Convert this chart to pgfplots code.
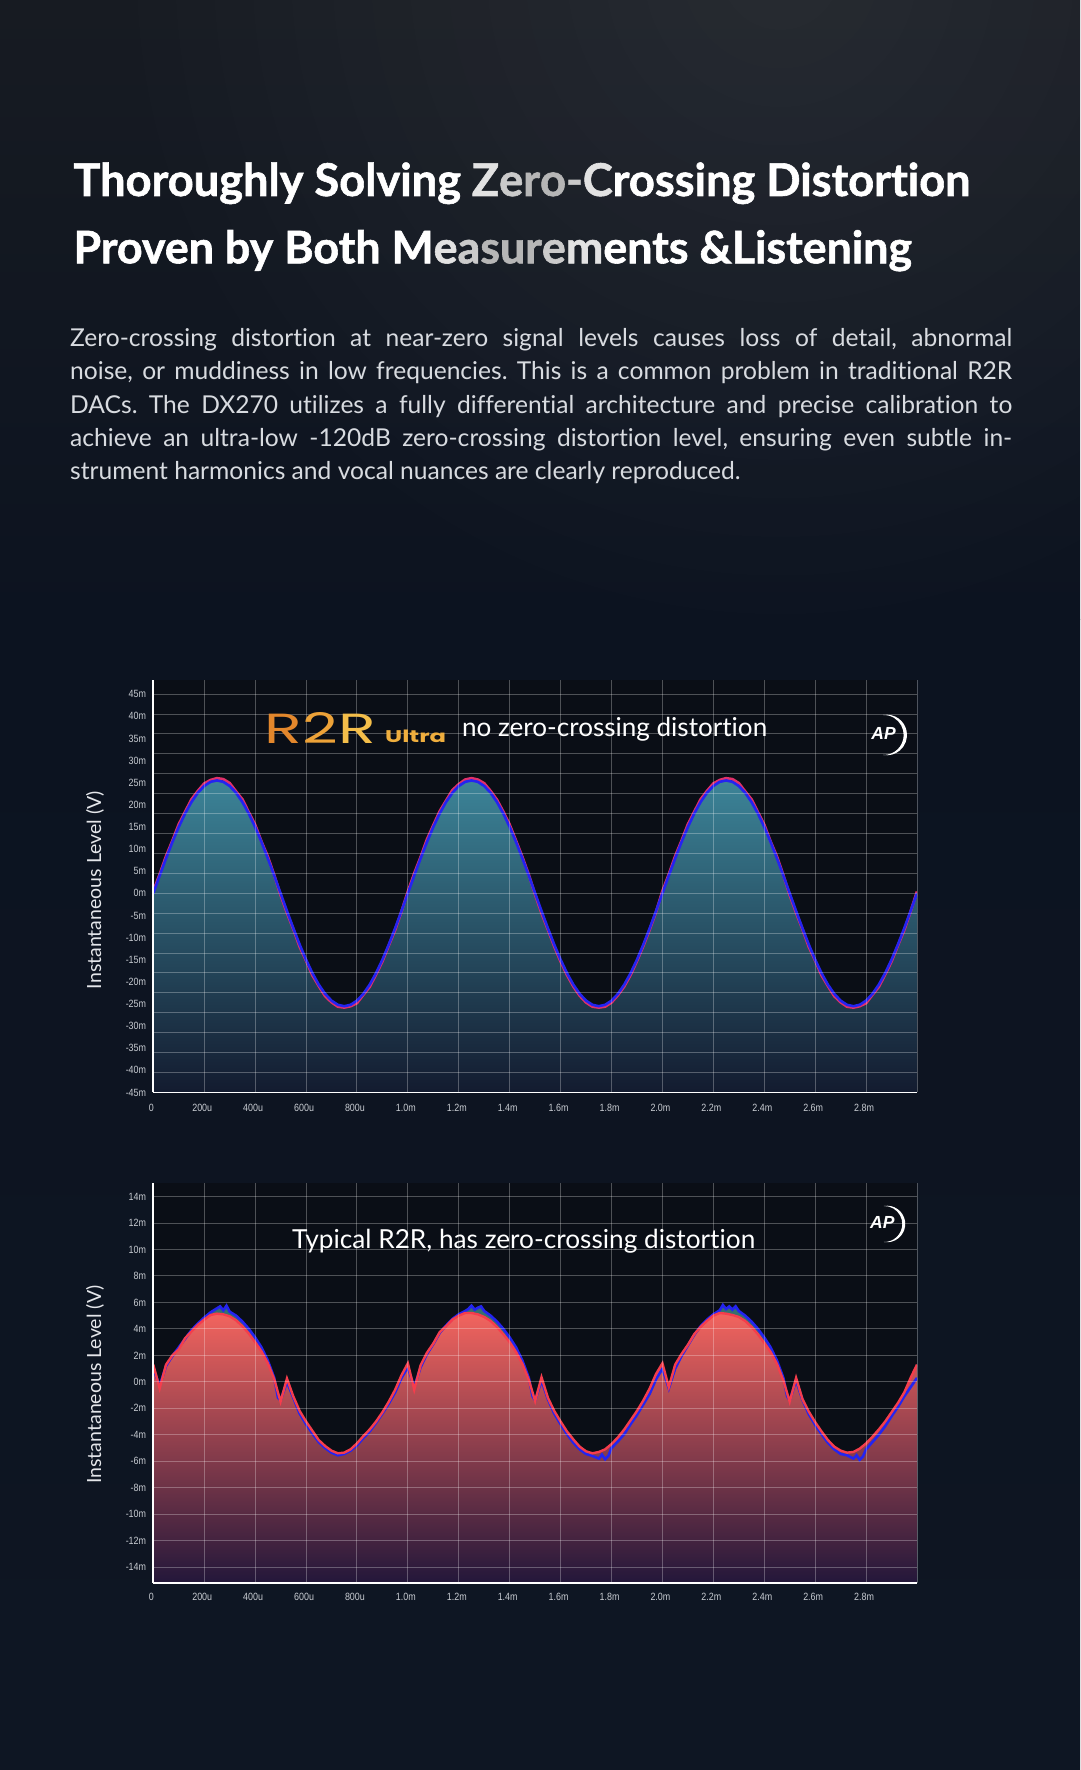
\documentclass[border=0pt]{standalone}
\usepackage{fontspec}
\usepackage{graphicx}
\usepackage{pgfplots}
\usepackage{pgfplotstable}
\usetikzlibrary{fadings}
\pgfplotsset{compat=1.18}
\setmainfont{Lato}[Ligatures=NoCommon, BoldFeatures={FakeBold=1.3}]
\newfontfamily\tickfont[FakeStretch=0.85]{Liberation Sans}
\newfontfamily\logofont{Poppins}
\newfontfamily\apfont{Liberation Sans}
\frenchspacing

\tikzfading[name=radfade, inner color=transparent!0, outer color=transparent!100]

\definecolor{bgtop}{HTML}{171B22}
\definecolor{bgmid}{HTML}{0C1320}
\definecolor{bgbot}{HTML}{0E1623}
\definecolor{plotbg}{HTML}{0A0E16}
\definecolor{tickc}{HTML}{C8CCD2}
\definecolor{bodyc}{HTML}{D8DBE0}
\definecolor{labc}{HTML}{E4E6EA}
\definecolor{tealtop}{HTML}{3C8498}
\definecolor{tealmid}{HTML}{235268}
\definecolor{tealbot}{HTML}{131B2F}
\definecolor{lineblue}{HTML}{2424F0}
\definecolor{linemag}{HTML}{E0306A}
\definecolor{linered}{HTML}{F53D4C}
\definecolor{redtop}{HTML}{F2645E}
\definecolor{redmid}{HTML}{8C4262}
\definecolor{redbot}{HTML}{23173A}
\definecolor{bfill}{HTML}{35706F}
\definecolor{orA}{HTML}{E3872C}
\definecolor{orB}{HTML}{EDA238}
\definecolor{orC}{HTML}{F4BE4A}
\definecolor{orU}{HTML}{EFAE3E}
\definecolor{gA}{HTML}{E2E2E2}
\definecolor{gB}{HTML}{CACACA}
\definecolor{gC}{HTML}{B6B6B6}

\pgfplotstableread{
x b r
0.000 0 0.5
0.025 3.99 4.29
0.050 7.88 8.38
0.075 11.58 11.88
0.100 14.99 15.59
0.125 18.03 18.43
0.150 20.63 21.23
0.175 22.72 23.12
0.200 24.25 24.80
0.225 25.19 25.59
0.250 25.5 26.0
0.275 25.19 25.79
0.300 24.25 24.90
0.325 22.72 23.02
0.350 20.63 21.23
0.375 18.03 18.33
0.400 14.99 15.49
0.425 11.58 11.68
0.450 7.88 8.28
0.475 3.99 4.09
0.500 0 -0.4
0.525 -3.99 -4.39
0.550 -7.88 -8.08
0.575 -11.58 -12.08
0.600 -14.99 -15.19
0.625 -18.03 -18.53
0.650 -20.63 -20.93
0.675 -22.72 -23.22
0.700 -24.25 -24.60
0.725 -25.19 -25.59
0.750 -25.5 -25.8
0.775 -25.19 -25.49
0.800 -24.25 -24.80
0.825 -22.72 -22.92
0.850 -20.63 -21.13
0.875 -18.03 -18.33
0.900 -14.99 -15.39
0.925 -11.58 -11.78
0.950 -7.88 -8.28
0.975 -3.99 -4.09
1.000 0 0.4
1.025 3.99 4.49
1.050 7.88 8.18
1.075 11.58 12.18
1.100 14.99 15.39
1.125 18.03 18.53
1.150 20.63 20.93
1.175 22.72 23.32
1.200 24.25 24.65
1.225 25.19 25.69
1.250 25.5 26.0
1.275 25.19 25.69
1.300 24.25 24.85
1.325 22.72 23.12
1.350 20.63 21.13
1.375 18.03 18.43
1.400 14.99 15.49
1.425 11.58 11.88
1.450 7.88 8.18
1.475 3.99 4.19
1.500 0 -0.3
1.525 -3.99 -4.49
1.550 -7.88 -8.18
1.575 -11.58 -11.98
1.600 -14.99 -15.39
1.625 -18.03 -18.43
1.650 -20.63 -21.03
1.675 -22.72 -23.12
1.700 -24.25 -24.65
1.725 -25.19 -25.59
1.750 -25.5 -25.8
1.775 -25.19 -25.59
1.800 -24.25 -24.65
1.825 -22.72 -23.02
1.850 -20.63 -21.03
1.875 -18.03 -18.43
1.900 -14.99 -15.29
1.925 -11.58 -11.88
1.950 -7.88 -8.18
1.975 -3.99 -4.19
2.000 0 0.5
2.025 3.99 4.29
2.050 7.88 8.38
2.075 11.58 11.88
2.100 14.99 15.59
2.125 18.03 18.43
2.150 20.63 21.23
2.175 22.72 23.12
2.200 24.25 24.80
2.225 25.19 25.59
2.250 25.5 26.0
2.275 25.19 25.79
2.300 24.25 24.90
2.325 22.72 23.02
2.350 20.63 21.23
2.375 18.03 18.33
2.400 14.99 15.49
2.425 11.58 11.68
2.450 7.88 8.28
2.475 3.99 4.09
2.500 0 -0.4
2.525 -3.99 -4.39
2.550 -7.88 -8.08
2.575 -11.58 -12.08
2.600 -14.99 -15.19
2.625 -18.03 -18.53
2.650 -20.63 -20.93
2.675 -22.72 -23.22
2.700 -24.25 -24.60
2.725 -25.19 -25.59
2.750 -25.5 -25.8
2.775 -25.19 -25.49
2.800 -24.25 -24.80
2.825 -22.72 -22.92
2.850 -20.63 -21.13
2.875 -18.03 -18.33
2.900 -14.99 -15.39
2.925 -11.58 -11.78
2.950 -7.88 -8.28
2.975 -3.99 -4.09
3.000 0 0.4
}\toptab

\pgfplotstableread{
x y
0.000 1.30
0.025 -0.50
0.050 1.30
0.075 2.00
0.100 2.45
0.125 3.30
0.150 3.80
0.175 4.30
0.200 4.70
0.225 5.05
0.250 5.15
0.275 5.10
0.300 4.95
0.325 4.65
0.350 4.20
0.375 3.65
0.400 3.00
0.425 2.30
0.450 1.40
0.475 0.20
0.500 -1.50
0.525 0.25
0.550 -1.10
0.575 -2.20
0.600 -3.00
0.625 -3.70
0.650 -4.40
0.675 -4.85
0.700 -5.20
0.725 -5.40
0.750 -5.35
0.775 -5.10
0.800 -4.65
0.825 -4.10
0.850 -3.60
0.875 -3.00
0.900 -2.30
0.925 -1.50
0.950 -0.60
0.975 0.50
1.000 1.40
1.025 -0.60
1.050 1.25
1.075 2.20
1.100 2.90
1.125 3.75
1.150 4.20
1.175 4.70
1.200 5.00
1.225 5.20
1.250 5.20
1.275 5.10
1.300 4.90
1.325 4.60
1.350 4.15
1.375 3.60
1.400 3.00
1.425 2.25
1.450 1.35
1.475 0.15
1.500 -1.45
1.525 0.35
1.550 -1.20
1.575 -2.20
1.600 -3.00
1.625 -3.75
1.650 -4.35
1.675 -4.90
1.700 -5.25
1.725 -5.40
1.750 -5.30
1.775 -5.10
1.800 -4.70
1.825 -4.20
1.850 -3.60
1.875 -2.90
1.900 -2.20
1.925 -1.40
1.950 -0.50
1.975 0.60
2.000 1.40
2.025 -0.40
2.050 1.30
2.075 2.10
2.100 2.80
2.125 3.60
2.150 4.15
2.175 4.60
2.200 5.00
2.225 5.20
2.250 5.15
2.275 5.05
2.300 4.90
2.325 4.60
2.350 4.15
2.375 3.60
2.400 2.95
2.425 2.25
2.450 1.35
2.475 0.10
2.500 -1.50
2.525 0.30
2.550 -1.30
2.575 -2.25
2.600 -3.05
2.625 -3.75
2.650 -4.40
2.675 -4.90
2.700 -5.20
2.725 -5.35
2.750 -5.30
2.775 -5.05
2.800 -4.65
2.825 -4.15
2.850 -3.60
2.875 -3.00
2.900 -2.30
2.925 -1.60
2.950 -0.80
2.975 0.30
3.000 1.30
}\botred

\pgfplotstableread{
x y
0.000 1.00
0.025 -0.30
0.050 1.20
0.075 1.95
0.100 2.60
0.125 3.25
0.150 3.90
0.175 4.40
0.200 4.85
0.225 5.25
0.250 5.55
0.2625 5.70
0.275 5.40
0.2875 5.75
0.300 5.30
0.325 5.00
0.350 4.55
0.375 4.00
0.400 3.35
0.425 2.60
0.450 1.60
0.475 0.30
0.490 -1.20
0.500 -1.40
0.525 0.00
0.550 -1.20
0.575 -2.40
0.600 -3.20
0.625 -3.90
0.650 -4.55
0.675 -5.00
0.700 -5.35
0.725 -5.55
0.750 -5.45
0.775 -5.20
0.800 -4.80
0.825 -4.25
0.850 -3.75
0.875 -3.10
0.900 -2.40
0.925 -1.65
0.950 -0.80
0.975 0.30
1.000 1.10
1.025 -0.40
1.050 1.10
1.075 2.10
1.100 2.85
1.125 3.70
1.150 4.25
1.175 4.75
1.200 5.10
1.225 5.35
1.2375 5.50
1.250 5.75
1.2625 5.45
1.275 5.60
1.2875 5.70
1.300 5.35
1.325 5.00
1.350 4.55
1.375 4.00
1.400 3.35
1.425 2.60
1.450 1.60
1.475 0.30
1.490 -1.10
1.500 -1.40
1.525 0.10
1.550 -1.30
1.575 -2.40
1.600 -3.20
1.625 -3.95
1.650 -4.60
1.675 -5.10
1.700 -5.45
1.725 -5.60
1.750 -5.80
1.7625 -5.50
1.775 -5.85
1.7875 -5.60
1.800 -5.00
1.825 -4.50
1.850 -3.95
1.875 -3.20
1.900 -2.50
1.925 -1.70
1.950 -0.90
1.975 0.20
2.000 1.00
2.025 -0.50
2.050 1.00
2.075 1.95
2.100 2.75
2.125 3.55
2.150 4.20
2.175 4.70
2.200 5.10
2.225 5.40
2.2375 5.80
2.250 5.50
2.2625 5.70
2.275 5.45
2.2875 5.70
2.300 5.35
2.325 5.00
2.350 4.55
2.375 4.00
2.400 3.35
2.425 2.60
2.450 1.60
2.475 0.30
2.490 -1.10
2.500 -1.40
2.525 0.10
2.550 -1.35
2.575 -2.45
2.600 -3.25
2.625 -3.95
2.650 -4.60
2.675 -5.10
2.700 -5.45
2.725 -5.55
2.750 -5.80
2.7625 -5.55
2.775 -5.90
2.7875 -5.65
2.800 -5.10
2.825 -4.55
2.850 -4.00
2.875 -3.35
2.900 -2.60
2.925 -1.90
2.950 -1.10
2.975 -0.40
3.000 0.30
}\botblue

\pgfplotsset{
  apstyle/.style={
    scale only axis, xmin=0, xmax=3,
    axis x line=bottom, axis y line=left,
    axis line style={-, draw=white, line width=1.8pt},
    axis background/.style={fill=plotbg},
    axis on top,
    major tick length=0pt, minor tick length=0pt,
    xtick={0,0.2,0.4,0.6,0.8,1,1.2,1.4,1.6,1.8,2,2.2,2.4,2.6,2.8,3},
    xticklabels={0,200u,400u,600u,800u,1.0m,1.2m,1.4m,1.6m,1.8m,2.0m,2.2m,2.4m,2.6m,2.8m,{}},
    xmajorgrids=true,
    grid style={draw=white, draw opacity=0.28, line width=1pt},
    minor grid style={draw=white, draw opacity=0.28, line width=1pt},
    tick label style={font={\tickfont\fontsize{10.5pt}{12pt}\selectfont}, text=tickc},
    yticklabel style={anchor=east, inner sep=0pt, xshift=-7pt},
    no markers,
  }
}

\newcommand{\aplogo}[4]{%
  \begin{scope}[shift={(#1,#2)}]
    \fill[white] (100:20.3pt*#3) arc[start angle=100,end angle=-100,radius=20.3pt*#3]
       arc[start angle=-91.4,end angle=91.4,radius=20pt*#3] -- cycle;
    \node[anchor=base west, inner sep=0pt, text=white,
      font={\apfont\bfseries\itshape\fontsize{17.5pt}{18pt}\selectfont}] at (#4) {AP};
  \end{scope}}

\begin{document}
\begin{tikzpicture}[x=1pt,y=1pt]
\path[use as bounding box] (0,0) rectangle (1080,1770);
\shade[top color=bgtop, bottom color=bgmid] (0,1150) rectangle (1080,1770);
\shade[top color=bgmid, bottom color=bgbot] (0,0) rectangle (1080,1150.5);
\begin{scope}
\clip (0,0) rectangle (1080,1770);
\fill[white, opacity=0.07, path fading=radfade] (780,1800) circle[radius=700pt];
\end{scope}

% Title
\node[anchor=base west, inner sep=0pt, text=white] at (73.3,1574) {\resizebox{897pt}{!}{\fontsize{40pt}{40pt}\selectfont\bfseries Thoroughly Solving \textcolor{gA}{Z}\textcolor{gB}{e}\textcolor{gC}{r}\textcolor{gC}{o}\textcolor{gB}{-}\textcolor{gA}{C}rossing Distortion}};
\node[anchor=base west, inner sep=0pt, text=white] at (73.3,1506.7) {\resizebox{838.5pt}{!}{\fontsize{40pt}{40pt}\selectfont\bfseries Proven by Both M\textcolor{gA}{e}\textcolor{gB}{a}\textcolor{gC}{s}\textcolor{gC}{u}\textcolor{gC}{r}\textcolor{gB}{e}\textcolor{gA}{m}ents \&Listening}};

% Body
\begin{scope}[every node/.style={anchor=base west, inner sep=0pt, text=bodyc, font={\fontsize{24.6pt}{28pt}\selectfont}}]
\node at (70,1423.3) {\makebox[942pt][s]{Zero-crossing distortion at near-zero signal levels causes loss of detail, abnormal}};
\node at (70,1390) {\makebox[942pt][s]{noise, or muddiness in low frequencies. This is a common problem in traditional R2R}};
\node at (70,1356.7) {\makebox[942pt][s]{DACs. The DX270 utilizes a fully differential architecture and precise calibration to}};
\node at (70,1323.3) {\makebox[942pt][s]{achieve an ultra-low -120dB zero-crossing distortion level, ensuring even subtle in-}};
\node at (70,1290) {strument harmonics and vocal nuances are clearly reproduced.};
\end{scope}

% Top chart
\begin{axis}[apstyle, at={(153.3pt,677.5pt)}, anchor=south west,
  width=763.7pt, height=412.5pt,
  ymin=-45, ymax=48.2,
  ytick={-45,-40,-35,-30,-25,-20,-15,-10,-5,0,5,10,15,20,25,30,35,40,45},
  yticklabels={-45m,-40m,-35m,-30m,-25m,-20m,-15m,-10m,-5m,0m,5m,10m,15m,20m,25m,30m,35m,40m,45m},
  ymajorgrids=false, yminorgrids=true,
  minor ytick={-45,-40.5,-36,-31.5,-27,-22.5,-18,-13.5,-9,-4.5,0,4.5,9,13.5,18,22.5,27,31.5,36,40.5,45},
  xticklabel style={anchor=base, inner sep=0pt, yshift=-19.5pt, xshift=-2pt}]
\addplot[draw=none, top color=tealtop, middle color=tealmid, bottom color=tealbot] table[x=x,y=b]{\toptab} -- (axis cs:3,-45) -- (axis cs:0,-45) -- cycle;
\addplot[linemag, line width=2.8pt] table[x=x,y=r]{\toptab};
\addplot[lineblue, line width=2.6pt] table[x=x,y=b]{\toptab};
\end{axis}

% Bottom chart
\begin{axis}[apstyle, at={(153.3pt,187pt)}, anchor=south west,
  width=763.7pt, height=399.7pt,
  ymin=-15.2, ymax=15,
  ytick={-14,-12,-10,-8,-6,-4,-2,0,2,4,6,8,10,12,14},
  yticklabels={-14m,-12m,-10m,-8m,-6m,-4m,-2m,0m,2m,4m,6m,8m,10m,12m,14m},
  ymajorgrids=true,
  xticklabel style={anchor=base, inner sep=0pt, yshift=-17.5pt, xshift=-2pt}]
\addplot[draw=none, fill=bfill] table[x=x,y=y]{\botblue} -- (axis cs:3,-15.2) -- (axis cs:0,-15.2) -- cycle;
\addplot[draw=none, top color=redtop, middle color=redmid, bottom color=redbot] table[x=x,y=y]{\botred} -- (axis cs:3,-15.2) -- (axis cs:0,-15.2) -- cycle;
\addplot[lineblue, line width=2.6pt] table[x=x,y=y]{\botblue};
\addplot[linered, line width=2.4pt] table[x=x,y=y]{\botred};
\end{axis}

% Y labels
\node[rotate=90, inner sep=0pt, text=labc, font={\fontsize{19.5pt}{22pt}\selectfont}] at (95,880) {Instantaneous Level (V)};
\node[rotate=90, inner sep=0pt, text=labc, font={\fontsize{19.5pt}{22pt}\selectfont}] at (95,385.4) {Instantaneous Level (V)};

% Chart titles
\node[anchor=base west, inner sep=0pt] at (264.5,1026.7) {\resizebox{111pt}{31pt}{\logofont\textcolor{orA}{R}\textcolor{orB}{2}\textcolor{orC}{R}}};
\node[anchor=base west, inner sep=0pt] at (385,1027) {\resizebox{61pt}{12.5pt}{\logofont\bfseries\textcolor{orU}{Ultra}}};
\node[anchor=base west, inner sep=0pt, text=white] at (462,1033.3) {\resizebox{305pt}{!}{\fontsize{22pt}{24pt}\selectfont no zero-crossing distortion}};
\node[anchor=base west, inner sep=0pt, text=white] at (292,521.7) {\resizebox{463pt}{!}{\fontsize{24pt}{26pt}\selectfont Typical R2R, has zero-crossing distortion}};

% AP logos
\aplogo{886.7}{1035}{1}{-15.5,-4.5}
\aplogo{887}{546}{0.9}{-17,-5}
\end{tikzpicture}
\end{document}
